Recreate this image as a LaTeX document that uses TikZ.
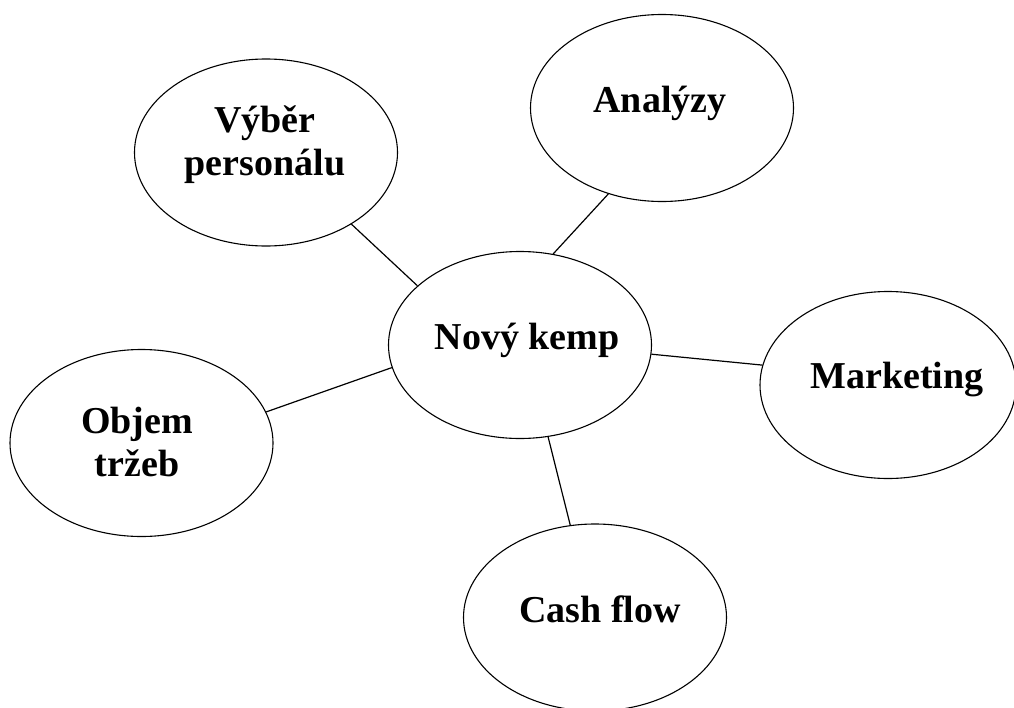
\documentclass[tikz,border=0pt]{standalone}
\usepackage{fontspec}
\setmainfont{Liberation Serif}
\usetikzlibrary{shapes.geometric}
\begin{document}
\begin{tikzpicture}[x=1pt,y=-1pt,
  bubble/.style={draw=black, line width=1.1pt, ellipse, inner sep=0pt,
    minimum width=263pt, minimum height=187pt},
  label text/.style={font=\fontsize{38}{43}\selectfont\bfseries, align=center, inner sep=0pt, anchor=base},
  link/.style={draw=black, line width=1.2pt}]
\useasboundingbox (0,0) rectangle (1014,707);
\clip (0,0) rectangle (1014,707);
\fill[white] (0,0) rectangle (1014,707);

\node[bubble] (c) at (520,345) {};
\node[bubble] (v) at (266,152.5) {};
\node[bubble] (a) at (662,108) {};
\node[bubble, minimum width=256pt] (m) at (888,385) {};
\node[bubble] (o) at (141.5,443) {};
\node[bubble] (f) at (595,617.5) {};

\node[label text] (ct) at (527,349) {Nový kemp};
\node[label text] (vt) at (265,175) {Výběr\\personálu};
\node[label text] (at) at (660,112) {Analýzy};
\node[label text] (mt) at (897,388) {Marketing};
\node[label text] (ot) at (137,476) {Objem\\tržeb};
\node[label text] (ft) at (600,622) {Cash flow};

\draw[link] (v.-40) -- (c.150);
\draw[link] (a.238.5) -- (c.70.8);
\draw[link] (m.171.9) -- (c.-4.4);
\draw[link] (o.14) -- (c.190.8);
\draw[link] (f.105.9) -- (c.-73.5);
\end{tikzpicture}
\end{document}
